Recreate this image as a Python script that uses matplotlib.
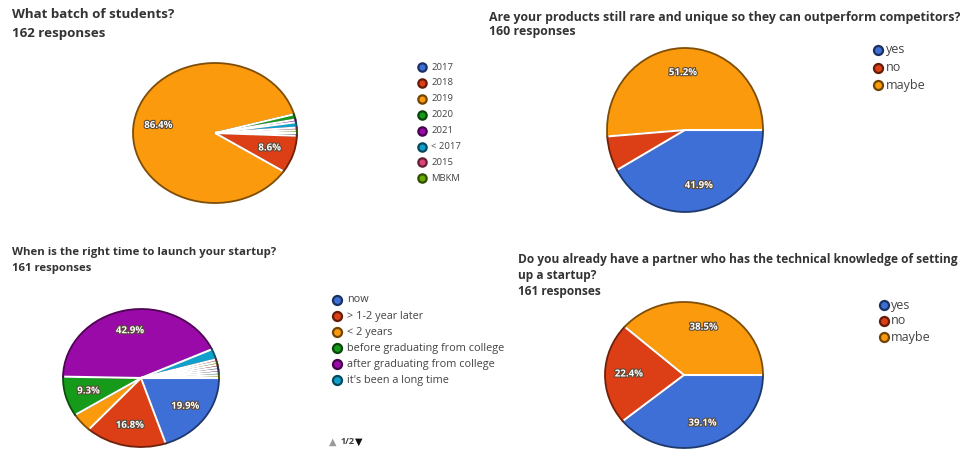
import matplotlib
matplotlib.use("Agg")
import matplotlib.pyplot as plt
import matplotlib.patheffects as pe
from matplotlib.lines import Line2D
from matplotlib.colors import to_rgb
import numpy as np

plt.rcParams['font.family'] = ['Open Sans', 'DejaVu Sans']

# ---------------- data ----------------
title1 = "What batch of students?"
resp1 = "162 responses"
cats1 = ["2017", "2018", "2019", "2020", "2021", "< 2017", "2015", "MBKM"]
vals1 = [1, 14, 140, 2, 1, 2, 1, 1]

title2 = "Are your products still rare and unique so they can outperform competitors?"
resp2 = "160 responses"
cats2 = ["yes", "no", "maybe"]
vals2 = [67, 11, 82]

title3 = "When is the right time to launch your startup?"
resp3 = "161 responses"
cats3 = ["now", "> 1-2 year later", "< 2 years", "before graduating from college",
         "after graduating from college", "it's been a long time"]
vals3 = [32, 27, 7, 15, 69, 4]
vals3_page2 = [1, 1, 1, 1, 1, 1, 1]   # answers listed on legend page 2
legend_page3 = "1/2"

title4 = ["Do you already have a partner who has the technical knowledge of setting",
          "up a startup?"]
resp4 = "161 responses"
cats4 = ["yes", "no", "maybe"]
vals4 = [63, 36, 62]

# ---------------- style ----------------
PALETTE = ["#3d6fd6", "#dc3f16", "#fb9a0c", "#169a1a", "#9a0aa8", "#119fcc",
           "#dd4477", "#66aa00", "#b82e2e", "#316395", "#994499", "#22aa99",
           "#aaaa11", "#6633cc"]
W, H = 960, 454

fig = plt.figure(figsize=(W / 100, H / 100), dpi=100)
fig.patch.set_facecolor("white")


def darker(c, f=0.5):
    r, g, b = to_rgb(c)
    return (r * f, g * f, b * f)


def fx(x):
    return x / W


def fy(y):
    return 1 - y / H


def text(x, y, s, size, weight="normal", color="#333333", **kw):
    fig.text(fx(x), fy(y), s, fontsize=size, fontweight=weight, color=color,
             ha="left", va="center", **kw)


def pie(cx, cy, rx, ry, values, colors):
    ax = fig.add_axes([fx(cx - rx), fy(cy + ry), 2 * rx / W, 2 * ry / H])
    fmt = lambda p: f"{p:.1f}%" if p >= 8 else ""
    wedges, _, autotexts = ax.pie(
        values, colors=colors, startangle=0, counterclock=False,
        autopct=fmt, pctdistance=0.7, radius=1,
        wedgeprops=dict(linewidth=1.3),
        textprops=dict(color="white", fontsize=7, fontweight="bold"))
    for w, c in zip(wedges, colors):
        w.set_edgecolor(darker(c))
        w.set_clip_on(False)
    for w in wedges:
        a = np.deg2rad(w.theta1)
        ax.plot([0, 0.985 * np.cos(a)], [0, 0.985 * np.sin(a)], color="white",
                lw=1.5, solid_capstyle="butt", clip_on=False, zorder=3)
    for t in autotexts:
        t.set_path_effects([pe.withStroke(linewidth=1.6, foreground="#5a4a3a")])
        t.set_zorder(5)
    ax.set_xlim(-1, 1)
    ax.set_ylim(-1, 1)
    ax.set_aspect("auto")
    ax.axis("off")
    return ax


def legend(x, y0, dy, labels, colors, size, msize=6.5, gap=9):
    for i, (lab, c) in enumerate(zip(labels, colors)):
        y = y0 + i * dy
        fig.add_artist(Line2D([fx(x)], [fy(y)], marker="o", markersize=msize,
                              markerfacecolor=c, markeredgecolor=darker(c, 0.45),
                              markeredgewidth=1.6, linestyle="none",
                              transform=fig.transFigure))
        text(x + gap, y, lab, size, color="#444444")


# ---------------- chart 1 ----------------
text(12, 15, title1, 9.6, "bold")
text(12, 33, resp1, 9.6, "bold")
cols1 = [PALETTE[i] for i in range(len(vals1))]
pie(215, 133, 82, 70, vals1, cols1)
legend(422, 67, 15.9, cats1, cols1, 6.8, msize=6)

# ---------------- chart 2 ----------------
text(489, 17, title2, 8.9, "bold")
text(489, 32, resp2, 8.9, "bold")
cols2 = PALETTE[:3]
pie(685, 130, 78, 82, vals2, cols2)
legend(878, 50, 17.5, cats2, cols2, 9, msize=6.5, gap=8)

# ---------------- chart 3 ----------------
text(12, 252, title3, 8.2, "bold")
text(12, 269, resp3, 8.2, "bold")
cols3 = PALETTE[:len(vals3) + len(vals3_page2)]
pie(141, 378, 78, 69, vals3 + vals3_page2, cols3)
legend(337, 300, 16, cats3, cols3[:len(cats3)], 7.8, msize=6.5, gap=10)
fig.text(fx(329), fy(442), "\u25B2", fontsize=7, color="#9a9a9a", ha="left",
         va="center", family="DejaVu Sans")
text(340, 442, legend_page3, 6.5, "bold", color="#444444")
fig.text(fx(355), fy(442), "\u25BC", fontsize=7, color="#111111", ha="left",
         va="center", family="DejaVu Sans")

# ---------------- chart 4 ----------------
text(518, 259, title4[0], 8.6, "bold")
text(518, 276, title4[1], 8.6, "bold")
text(518, 292, resp4, 8.6, "bold")
cols4 = PALETTE[:3]
pie(684, 375, 79, 73, vals4, cols4)
legend(884, 305, 16, cats4, cols4, 9, msize=6.5, gap=7)

fig.savefig("out.png", dpi=100, facecolor="white")
